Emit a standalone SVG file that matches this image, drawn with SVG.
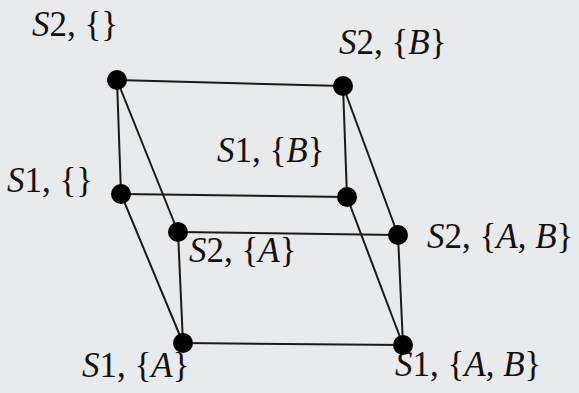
<svg xmlns="http://www.w3.org/2000/svg" width="579" height="393" viewBox="0 0 579 393">
<style>
.bg{fill:#e9eaeb}
.e{stroke:#1a1a1a;stroke-width:2;fill:none}
.n{fill:#000}
.t{font-family:"Liberation Serif","DejaVu Serif",serif;font-size:35px;fill:#111}
.i{font-style:italic}
</style>
<rect class="bg" x="0" y="0" width="579" height="393"/>
<g id="connectors">
<line class="e" x1="117" y1="80" x2="343" y2="86"/>
<line class="e" x1="117" y1="80" x2="121" y2="194"/>
<line class="e" x1="117" y1="80" x2="178" y2="232"/>
<line class="e" x1="343" y1="86" x2="347" y2="197"/>
<line class="e" x1="343" y1="86" x2="398" y2="235"/>
<line class="e" x1="121" y1="194" x2="347" y2="197"/>
<line class="e" x1="121" y1="194" x2="183" y2="343"/>
<line class="e" x1="347" y1="197" x2="403" y2="345"/>
<line class="e" x1="178" y1="232" x2="398" y2="235"/>
<line class="e" x1="178" y1="232" x2="183" y2="343"/>
<line class="e" x1="398" y1="235" x2="403" y2="345"/>
<line class="e" x1="183" y1="343" x2="403" y2="345"/>
</g>
<g id="s2-empty"><circle class="n" cx="117" cy="80" r="10"/><text class="t" x="32" y="36"><tspan class="i">S</tspan>2, {}</text></g>
<g id="s2-b"><circle class="n" cx="343" cy="86" r="10"/><text class="t" x="339" y="54"><tspan class="i">S</tspan>2, {<tspan class="i">B</tspan>}</text></g>
<g id="s1-empty"><circle class="n" cx="121" cy="194" r="10"/><text class="t" x="7" y="192"><tspan class="i">S</tspan>1, {}</text></g>
<g id="s1-b"><circle class="n" cx="347" cy="197" r="10"/><text class="t" x="217" y="162"><tspan class="i">S</tspan>1, {<tspan class="i">B</tspan>}</text></g>
<g id="s2-a"><circle class="n" cx="178" cy="232" r="10"/><text class="t" x="189" y="262"><tspan class="i">S</tspan>2, {<tspan class="i">A</tspan>}</text></g>
<g id="s2-ab"><circle class="n" cx="398" cy="235" r="10"/><text class="t" x="427" y="248"><tspan class="i">S</tspan>2, {<tspan class="i">A</tspan>, <tspan class="i">B</tspan>}</text></g>
<g id="s1-a"><circle class="n" cx="183" cy="343" r="10"/><text class="t" x="82" y="377"><tspan class="i">S</tspan>1, {<tspan class="i">A</tspan>}</text></g>
<g id="s1-ab"><circle class="n" cx="403" cy="345" r="10"/><text class="t" x="395" y="376"><tspan class="i">S</tspan>1, {<tspan class="i">A</tspan>, <tspan class="i">B</tspan>}</text></g>
</svg>
